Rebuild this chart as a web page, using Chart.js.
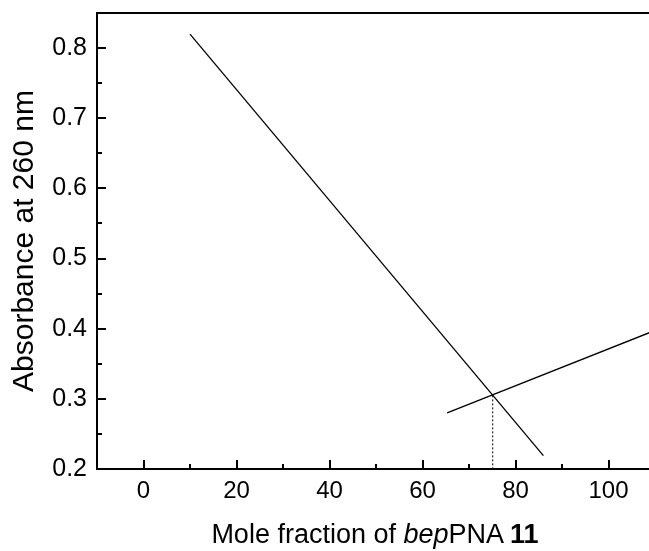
<!DOCTYPE html>
<html>
<head>
<meta charset="utf-8">
<script src="https://cdn.jsdelivr.net/npm/chart.js@4/dist/chart.umd.min.js"></script>
<style>
  html, body { margin: 0; padding: 0; background: #fff; overflow: hidden; }
  #wrap { position: relative; width: 649px; height: 551px; overflow: hidden; }
  #c { position: absolute; left: 0; top: 0; }
  #xtitle { position: absolute; left: 0; width: 750px; top: 521px; text-align: center;
            font-family: "Liberation Sans", Arial, sans-serif; font-size: 27px; line-height: 1; color: #000; white-space: nowrap; }
</style>
</head>
<body>
<div id="wrap">
  <canvas id="c" width="656" height="551"></canvas>
  <div id="xtitle">Mole fraction of <i>bep</i>PNA <b>11</b></div>
</div>
<script>
// Data
const descendingX = [10, 86];
const descendingY = [0.82, 0.219];
const ascendingX = [65.3, 110];
const ascendingY = [0.28, 0.3975];
const crossX = [75.1, 75.1];
const crossY = [0.305, 0.2];

const xMajorTicks = [0, 20, 40, 60, 80, 100];
const xMinorTicks = [10, 30, 50, 70, 90];
const yMajorTicks = [0.2, 0.3, 0.4, 0.5, 0.6, 0.7, 0.8];
const yMinorTicks = [0.25, 0.35, 0.45, 0.55, 0.65, 0.75];

const toPts = (xs, ys) => xs.map((x, i) => ({ x: x, y: ys[i] }));
const FONT = '"Liberation Sans", Arial, sans-serif';

const frameTicks = {
  id: 'frameTicks',
  afterDraw(chart) {
    const { ctx, chartArea: a, scales: { x, y } } = chart;
    ctx.save();
    ctx.strokeStyle = '#000';
    ctx.lineWidth = 2;
    ctx.beginPath();
    ctx.moveTo(a.left - 1, a.top);
    ctx.lineTo(a.right + 2, a.top);
    ctx.stroke();
    const tick = (x1, y1, x2, y2) => { ctx.beginPath(); ctx.moveTo(x1, y1); ctx.lineTo(x2, y2); ctx.stroke(); };
    xMajorTicks.forEach(v => { const p = Math.round(x.getPixelForValue(v)); tick(p, a.bottom, p, a.bottom - 9); });
    xMinorTicks.forEach(v => { const p = Math.round(x.getPixelForValue(v)); tick(p, a.bottom, p, a.bottom - 5); });
    yMajorTicks.forEach(v => { const p = Math.round(y.getPixelForValue(v)); tick(a.left, p, a.left + 9, p); });
    yMinorTicks.forEach(v => { const p = Math.round(y.getPixelForValue(v)); tick(a.left, p, a.left + 5, p); });
    ctx.restore();
  }
};

new Chart(document.getElementById('c'), {
  type: 'scatter',
  data: {
    datasets: [
      { data: toPts(descendingX, descendingY), showLine: true, borderColor: '#000', borderWidth: 1.3, pointRadius: 0, fill: false },
      { data: toPts(ascendingX, ascendingY), showLine: true, borderColor: '#000', borderWidth: 1.3, pointRadius: 0, fill: false },
      { data: toPts(crossX, crossY), showLine: true, borderColor: '#000', borderWidth: 1, borderDash: [2, 2], pointRadius: 0, fill: false }
    ]
  },
  plugins: [frameTicks],
  options: {
    responsive: false,
    animation: false,
    devicePixelRatio: 1,
    layout: { padding: { top: 13, right: 1, left: 0, bottom: 0 } },
    plugins: { legend: { display: false }, tooltip: { enabled: false } },
    scales: {
      x: {
        type: 'linear', min: -10, max: 110,
        afterBuildTicks: s => { s.ticks = xMajorTicks.map(v => ({ value: v })); },
        afterFit: s => { s.height = 82; s.paddingLeft = 0; s.paddingRight = 0; },
        grid: { display: true, drawOnChartArea: false, drawTicks: false },
        border: { display: true, color: '#000', width: 2 },
        ticks: { color: '#000', font: { family: FONT, size: 24 }, padding: 8, maxRotation: 0, callback: v => String(v) }
      },
      y: {
        type: 'linear', min: 0.2, max: 0.85,
        afterBuildTicks: s => { s.ticks = yMajorTicks.map(v => ({ value: v })); },
        afterFit: s => { s.width = 97; s.paddingTop = 0; s.paddingBottom = 0; },
        grid: { display: true, drawOnChartArea: false, drawTicks: false },
        border: { display: true, color: '#000', width: 2 },
        ticks: { color: '#000', font: { family: FONT, size: 25 }, padding: 10, callback: v => Number(v).toFixed(1) },
        title: { display: true, text: 'Absorbance at 260 nm', color: '#000', font: { family: FONT, size: 30 }, padding: { top: 7, bottom: 0 } }
      }
    }
  }
});
</script>
</body>
</html>
